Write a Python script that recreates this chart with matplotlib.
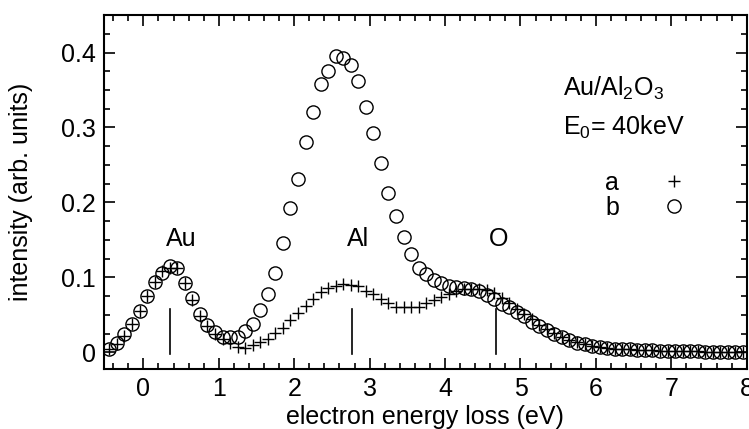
import matplotlib
matplotlib.use("Agg")
import matplotlib.pyplot as plt
from matplotlib.ticker import MultipleLocator, FuncFormatter

plt.rcParams['font.family'] = ['Liberation Sans', 'DejaVu Sans']
plt.rcParams['mathtext.default'] = 'regular'

# energy grid (eV), 0.1 eV steps
energy = [-0.45, -0.35, -0.25, -0.15, -0.05, 0.05, 0.15, 0.25, 0.35, 0.45,
          0.55, 0.65, 0.75, 0.85, 0.95, 1.05, 1.15, 1.25, 1.35, 1.45,
          1.55, 1.65, 1.75, 1.85, 1.95, 2.05, 2.15, 2.25, 2.35, 2.45,
          2.55, 2.65, 2.75, 2.85, 2.95, 3.05, 3.15, 3.25, 3.35, 3.45,
          3.55, 3.65, 3.75, 3.85, 3.95, 4.05, 4.15, 4.25, 4.35, 4.45,
          4.55, 4.65, 4.75, 4.85, 4.95, 5.05, 5.15, 5.25, 5.35, 5.45,
          5.55, 5.65, 5.75, 5.85, 5.95, 6.05, 6.15, 6.25, 6.35, 6.45,
          6.55, 6.65, 6.75, 6.85, 6.95, 7.05, 7.15, 7.25, 7.35, 7.45,
          7.55, 7.65, 7.75, 7.85, 7.95]

# spectrum a (+)
spec_a = [0.004, 0.011, 0.022, 0.038, 0.055, 0.075, 0.094, 0.108, 0.113, 0.112,
          0.092, 0.070, 0.049, 0.035, 0.024, 0.018, 0.013, 0.007, 0.006, 0.010,
          0.014, 0.018, 0.026, 0.033, 0.043, 0.053, 0.062, 0.071, 0.080, 0.086,
          0.089, 0.091, 0.090, 0.089, 0.082, 0.078, 0.071, 0.066, 0.061, 0.060,
          0.060, 0.061, 0.066, 0.070, 0.074, 0.078, 0.082, 0.084, 0.085, 0.085,
          0.083, 0.079, 0.073, 0.066, 0.058, 0.051, 0.044, 0.037, 0.031, 0.026,
          0.021, 0.017, 0.014, 0.011, 0.009, 0.007, 0.006, 0.005, 0.004, 0.004,
          0.003, 0.003, 0.003, 0.002, 0.002, 0.002, 0.002, 0.0015, 0.0015, 0.001,
          0.001, 0.001, 0.001, 0.001, 0.001]

# spectrum b (o)
spec_b = [0.004, 0.013, 0.024, 0.038, 0.055, 0.075, 0.094, 0.106, 0.115, 0.112,
          0.092, 0.072, 0.051, 0.037, 0.027, 0.021, 0.020, 0.020, 0.029, 0.038,
          0.056, 0.078, 0.106, 0.146, 0.192, 0.231, 0.280, 0.320, 0.358, 0.376,
          0.395, 0.393, 0.384, 0.362, 0.327, 0.292, 0.252, 0.213, 0.182, 0.154,
          0.131, 0.113, 0.104, 0.096, 0.092, 0.088, 0.087, 0.086, 0.085, 0.082,
          0.077, 0.071, 0.065, 0.060, 0.054, 0.048, 0.041, 0.035, 0.030, 0.025,
          0.020, 0.016, 0.013, 0.011, 0.009, 0.007, 0.006, 0.005, 0.0045, 0.004,
          0.0035, 0.003, 0.003, 0.0025, 0.002, 0.002, 0.002, 0.0015, 0.0015, 0.001,
          0.001, 0.001, 0.001, 0.001, 0.001]

# edge markers
edge_names = ['Au', 'Al', 'O']
edge_pos = [0.36, 2.76, 4.67]
edge_label_x = [0.50, 2.84, 4.71]

fs = 18

fig = plt.figure(figsize=(7.49, 4.29), dpi=100)
ax = fig.add_axes([0.139, 0.140, 0.858, 0.825])

ax.plot(energy, spec_a, '+', color='black', ms=9, mew=1.0, label='a')
ax.plot(energy, spec_b, 'o', mfc='none', mec='black', ms=9.5, mew=1.0, label='b')

for name, xe, xl in zip(edge_names, edge_pos, edge_label_x):
    ax.plot([xe, xe], [-0.002, 0.058], color='black', lw=1.2)
    ax.text(xl, 0.135, name, fontsize=fs, ha='center', va='bottom')

ax.text(5.57, 0.352, r'Au/Al$_2$O$_3$', fontsize=fs, ha='left', va='center')
ax.text(5.57, 0.300, r'E$_0$= 40keV', fontsize=fs, ha='left', va='center')

ax.legend(loc='upper left', bbox_to_anchor=(0.78, 0.56), frameon=False,
          markerfirst=False, fontsize=fs, handlelength=1.0, handletextpad=1.7,
          labelspacing=0.05, borderpad=0, borderaxespad=0)

ax.set_xlim(-0.52, 8.0)
ax.set_ylim(-0.022, 0.45)
ax.xaxis.set_major_locator(MultipleLocator(1))
ax.xaxis.set_minor_locator(MultipleLocator(0.2))
ax.yaxis.set_major_locator(MultipleLocator(0.1))
ax.yaxis.set_minor_locator(MultipleLocator(0.025))
ax.yaxis.set_major_formatter(FuncFormatter(lambda v, p: '%g' % round(v, 2)))

ax.tick_params(which='both', direction='in', top=True, right=True, width=1.2,
               labelsize=fs)
ax.tick_params(which='major', length=8, pad=6)
ax.tick_params(which='minor', length=4)
for s in ax.spines.values():
    s.set_linewidth(1.5)

ax.set_xlabel('electron energy loss (eV)', fontsize=fs, labelpad=3)
ax.set_ylabel('intensity (arb. units)', fontsize=fs, labelpad=20)

fig.savefig('out.png', dpi=100)
